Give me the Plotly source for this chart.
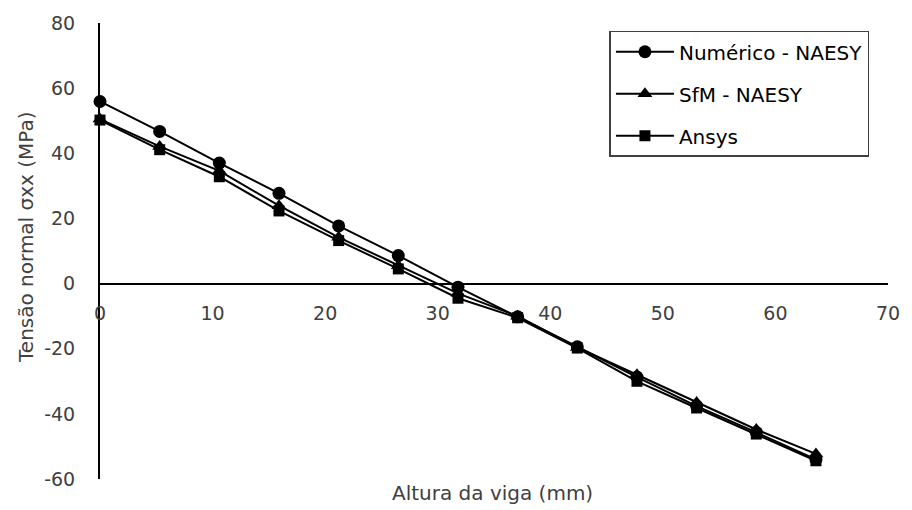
import plotly.graph_objects as go

# Beam height positions (mm)
altura = [0, 5.3, 10.6, 15.9, 21.2, 26.5, 31.8, 37.1, 42.4, 47.7, 53.0, 58.3, 63.6]

# Normal stress sigma_xx (MPa) for each method
numerico = [55.9, 46.7, 37.0, 27.7, 17.7, 8.6, -1.1, -10.2, -19.4, -28.7, -37.6, -45.7, -54.0]
sfm = [50.5, 42.1, 34.6, 23.9, 14.2, 5.5, -3.0, -10.0, -19.6, -28.0, -36.5, -44.8, -52.3]
ansys = [50.2, 41.1, 32.8, 22.3, 13.2, 4.5, -4.5, -10.5, -19.8, -30.0, -38.2, -46.2, -54.4]

x_ticks = [0, 10, 20, 30, 40, 50, 60, 70]
x_labels = ["0", "10", "20", "30", "40", "50", "60", "70"]
y_ticks = [-60, -40, -20, 0, 20, 40, 60, 80]
y_labels = ["-60", "-40", "-20", "0", "20", "40", "60", "80"]

FONT = "DejaVu Sans, sans-serif"
TXT = "#404040"

series = [
    ("Numérico - NAESY", numerico, "circle", 13),
    ("SfM - NAESY", sfm, "triangle-up", 13),
    ("Ansys", ansys, "square", 11),
]

fig = go.Figure()
for i, (name, vals, sym, sz) in enumerate(series):
    fig.add_trace(go.Scatter(
        x=altura, y=vals, name=name, mode="lines+markers",
        line=dict(color="black", width=2),
        marker=dict(symbol=sym, size=sz, color="black"),
        cliponaxis=False, legendgroup=f"g{i}",
    ))

# y = 0 position within the plot area (axis crosses there)
y_lo, y_hi = -60, 80
zero_frac = (0 - y_lo) / (y_hi - y_lo)

fig.update_layout(
    width=912, height=510,
    margin=dict(l=100, r=20, t=20, b=31),
    plot_bgcolor="white", paper_bgcolor="white",
    font=dict(family=FONT, size=19, color=TXT),
    showlegend=True,
    legend=dict(
        x=0.6465, y=0.983, xanchor="left", yanchor="top",
        bgcolor="white", bordercolor="#404040", borderwidth=1.5,
        font=dict(family=FONT, size=20, color="black"),
        itemwidth=58, traceorder="grouped", tracegroupgap=13,
    ),
    xaxis=dict(
        range=[0, 70], tickvals=x_ticks, ticktext=x_labels,
        showgrid=False, zeroline=False,
        showline=True, linecolor="black", linewidth=2,
        anchor="free", position=zero_frac,
        ticks="", ticklabelstandoff=13,
        tickfont=dict(family=FONT, size=19, color=TXT),
    ),
    yaxis=dict(
        range=[y_lo, y_hi], tickvals=y_ticks, ticktext=y_labels,
        showgrid=False, zeroline=False,
        showline=True, linecolor="black", linewidth=2,
        ticks="", ticklabelstandoff=19,
        tickfont=dict(family=FONT, size=19, color=TXT),
    ),
    annotations=[
        dict(text="Altura da viga (mm)", xref="paper", yref="paper",
             x=0.4975, y=-0.0305, xanchor="center", yanchor="middle",
             showarrow=False, font=dict(family=FONT, size=20, color=TXT)),
        dict(text="Tensão normal σxx (MPa)", xref="paper", yref="paper",
             x=-0.0947, y=0.5316, xanchor="center", yanchor="middle",
             textangle=-90, showarrow=False,
             font=dict(family=FONT, size=20, color=TXT)),
    ],
)

fig.write_html("out.html")
